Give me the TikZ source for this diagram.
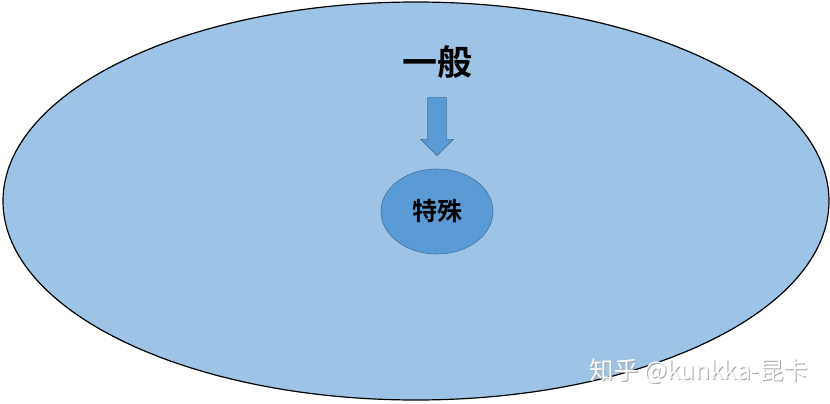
\documentclass[tikz,border=0pt]{standalone}
\usepackage{fontspec}
\newfontfamily\cjk{Noto Sans CJK SC}
\newfontfamily\cjkbold{Noto Sans CJK SC Bold}
\usetikzlibrary{shapes.geometric,shapes.arrows}
\definecolor{lightblue}{HTML}{9DC3E6}
\definecolor{midblue}{HTML}{5B9BD5}
\definecolor{edgeblue}{HTML}{41719C}
\tikzset{
    blob/.style={ellipse, inner sep=0pt, fill=midblue, draw=edgeblue, line width=.6pt},
    wmark/.style={font=\cjk\fontsize{24.5}{24.5}\selectfont},
}
\begin{document}
\begin{tikzpicture}[x=1pt, y=-1pt]
     \useasboundingbox (0,0) rectangle (830,404);
     \node[ellipse, inner sep=0pt, minimum width=826, minimum height=398,
           fill=lightblue, draw=black, line width=1.2pt] (general) at (416,201) {};
     \node (top) at (437,62) {\cjkbold\fontsize{35}{35}\selectfont 一般};
     \node[single arrow, shape border rotate=270, fill=midblue, draw=edgeblue, line width=.6pt,
           inner sep=9pt, minimum height=58, minimum width=32, single arrow head extend=7pt]
           (down) at (437,122) {};
     \node[blob, minimum width=112, minimum height=85] (special) at (437,211.5)
           {\cjkbold\fontsize{25}{25}\selectfont 特殊};
     % watermark
     \node[wmark, text=black!35] (shadow) at (700,372) {知乎 @kunkka-昆卡};
     \node[wmark, text=white] (mark) at (699,371) {知乎 @kunkka-昆卡};
\end{tikzpicture}
\end{document}
